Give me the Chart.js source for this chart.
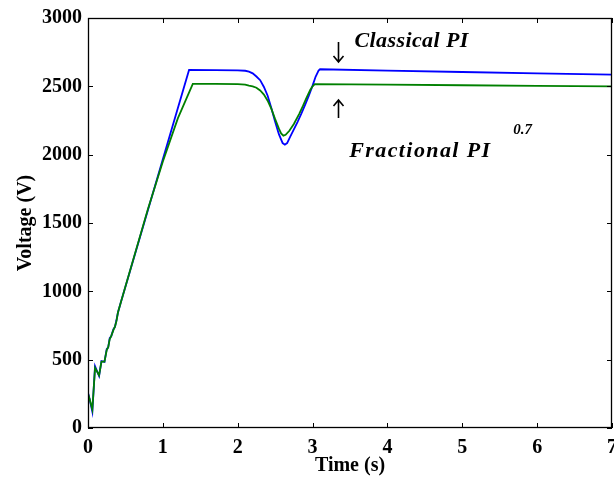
<!DOCTYPE html>
<html>
<head>
<meta charset="utf-8">
<script src="https://cdn.jsdelivr.net/npm/chart.js@4.4.1/dist/chart.umd.min.js"></script>
<style>
html,body{margin:0;padding:0;background:#fff;}
#wrap{width:614px;height:484px;}
</style>
</head>
<body>
<div id="wrap"><canvas id="c" width="614" height="484"></canvas></div>
<script>
// ---- data ----
const xTicks = [0, 1, 2, 3, 4, 5, 6, 7];
const yTicks = [0, 500, 1000, 1500, 2000, 2500, 3000];

const classicalT = [0, 0.02, 0.058, 0.094, 0.148, 0.18, 0.22, 0.25, 0.27, 0.29, 0.31, 0.34, 0.36, 0.38, 0.40, 0.44,
  1.35, 1.7, 2.0, 2.1, 2.15, 2.2, 2.25, 2.3, 2.35, 2.4, 2.45, 2.5, 2.55, 2.6, 2.63, 2.66, 2.7, 2.75, 2.8, 2.85,
  2.9, 2.95, 3.0, 3.04, 3.08, 3.1, 4.0, 5.0, 6.0, 7.0];
const classicalV = [258, 215, 119, 452, 380, 489, 484, 577, 590, 657, 671, 723, 740, 788, 845, 922,
  2620, 2619, 2617, 2614, 2608, 2595, 2572, 2545, 2495, 2431, 2340, 2240, 2150, 2085, 2073, 2085, 2130, 2185, 2240, 2300,
  2365, 2431, 2505, 2570, 2615, 2625, 2615, 2605, 2595, 2585];

const fractionalT = [0, 0.02, 0.058, 0.094, 0.148, 0.18, 0.22, 0.25, 0.27, 0.29, 0.31, 0.34, 0.36, 0.38, 0.40, 0.44,
  0.8, 1.0, 1.2, 1.40, 1.7, 2.0, 2.1, 2.15, 2.2, 2.25, 2.3, 2.35, 2.4, 2.45, 2.5, 2.55, 2.58, 2.61, 2.64, 2.69, 2.75,
  2.82, 2.87, 2.92, 2.97, 3.0, 3.03, 4.0, 5.0, 6.0, 7.0];
const fractionalV = [250, 215, 135, 440, 385, 485, 486, 570, 592, 650, 672, 718, 742, 782, 845, 922,
  1600, 1950, 2265, 2518, 2518, 2516, 2513, 2505, 2500, 2490, 2470, 2440, 2395, 2335, 2260, 2190, 2155, 2139, 2145, 2175, 2225,
  2297, 2355, 2418, 2475, 2500, 2516, 2512, 2508, 2504, 2500];

const seriesNames = ['Classical PI', 'Fractional PI'];
const exponentText = '0.7';

// ---- build chart ----
const FONT = 'Liberation Serif';
const toXY = (ts, vs) => ts.map((t, i) => ({x: t, y: vs[i]}));

const framePlugin = {
  id: 'frame',
  afterDatasetsDraw(chart) {
    const {ctx, chartArea: a, scales: {x, y}} = chart;
    ctx.save();
    ctx.strokeStyle = '#000';
    ctx.lineWidth = 1.3;
    ctx.strokeRect(a.left + 0.5, a.top + 0.5, a.right - a.left - 1, a.bottom - a.top - 1);
    ctx.lineWidth = 1;
    const tl = 5;
    ctx.beginPath();
    xTicks.forEach(v => {
      const px = Math.round(x.getPixelForValue(v)) + 0.5;
      ctx.moveTo(px, a.bottom); ctx.lineTo(px, a.bottom - tl);
      ctx.moveTo(px, a.top); ctx.lineTo(px, a.top + tl);
    });
    yTicks.forEach(v => {
      const py = Math.round(y.getPixelForValue(v)) + 0.5;
      ctx.moveTo(a.left, py); ctx.lineTo(a.left + tl, py);
      ctx.moveTo(a.right, py); ctx.lineTo(a.right - tl, py);
    });
    ctx.stroke();
    ctx.restore();
  },
  afterDraw(chart) {
    const {ctx, scales: {x, y}} = chart;
    ctx.save();
    ctx.fillStyle = '#000';
    ctx.strokeStyle = '#000';
    ctx.textBaseline = 'alphabetic';
    ctx.textAlign = 'left';
    ctx.font = 'italic bold 22px "' + FONT + '"';
    ctx.letterSpacing = '0.4px';
    ctx.fillText(seriesNames[0], x.getPixelForValue(3.56), y.getPixelForValue(2788));
    ctx.letterSpacing = '1.4px';
    ctx.fillText(seriesNames[1], x.getPixelForValue(3.49), y.getPixelForValue(1983));
    ctx.letterSpacing = '0px';
    ctx.font = 'italic bold 15px "' + FONT + '"';
    ctx.fillText(exponentText, x.getPixelForValue(5.68), y.getPixelForValue(2150));
    // arrows
    const ax = Math.round(x.getPixelForValue(3.34)) + 0.5;
    ctx.lineWidth = 1.6;
    const arrow = (y0, y1) => {
      const dir = Math.sign(y1 - y0);
      ctx.beginPath();
      ctx.moveTo(ax, y0); ctx.lineTo(ax, y1);
      ctx.moveTo(ax - 5, y1 - dir * 6); ctx.lineTo(ax, y1); ctx.lineTo(ax + 5, y1 - dir * 6);
      ctx.stroke();
    };
    arrow(y.getPixelForValue(2824), y.getPixelForValue(2678));
    arrow(y.getPixelForValue(2268), y.getPixelForValue(2400));
    ctx.restore();
  }
};

new Chart(document.getElementById('c'), {
  type: 'line',
  data: {
    datasets: [
      {label: seriesNames[0], data: toXY(classicalT, classicalV), borderColor: '#0000ff', borderWidth: 1.8,
       pointRadius: 0, tension: 0, order: 2},
      {label: seriesNames[1], data: toXY(fractionalT, fractionalV), borderColor: '#008000', borderWidth: 1.8,
       pointRadius: 0, tension: 0, order: 1}
    ]
  },
  options: {
    responsive: false,
    animation: false,
    devicePixelRatio: 1,
    layout: {padding: {top: 18, right: 2, left: 0, bottom: 0}},
    plugins: {legend: {display: false}, tooltip: {enabled: false}},
    scales: {
      x: {
        type: 'linear', min: 0, max: 7,
        grid: {display: false, drawTicks: false},
        border: {display: false},
        afterBuildTicks: s => { s.ticks = xTicks.map(v => ({value: v})); },
        afterFit: s => { s.height = 56; s.paddingLeft = 0; s.paddingRight = 0; },
        ticks: {color: '#000', padding: 8, maxRotation: 0, autoSkip: false,
          font: {family: FONT, size: 20, weight: 'bold'}, callback: v => String(v)},
        title: {display: true, text: 'Time (s)', color: '#000', padding: {top: 0, bottom: 6},
          font: {family: FONT, size: 20, weight: 'bold'}}
      },
      y: {
        min: 0, max: 3000,
        grid: {display: false, drawTicks: false},
        border: {display: false},
        afterBuildTicks: s => { s.ticks = yTicks.map(v => ({value: v})); },
        afterFit: s => { s.width = 88; s.paddingTop = 0; s.paddingBottom = 0; },
        ticks: {color: '#000', padding: 6, autoSkip: false,
          font: {family: FONT, size: 20, weight: 'bold'}, callback: v => String(v)},
        title: {display: true, text: 'Voltage (V)', color: '#000', padding: {top: 14, bottom: 0},
          font: {family: FONT, size: 20, weight: 'bold'}}
      }
    }
  },
  plugins: [framePlugin]
});
</script>
</body>
</html>
